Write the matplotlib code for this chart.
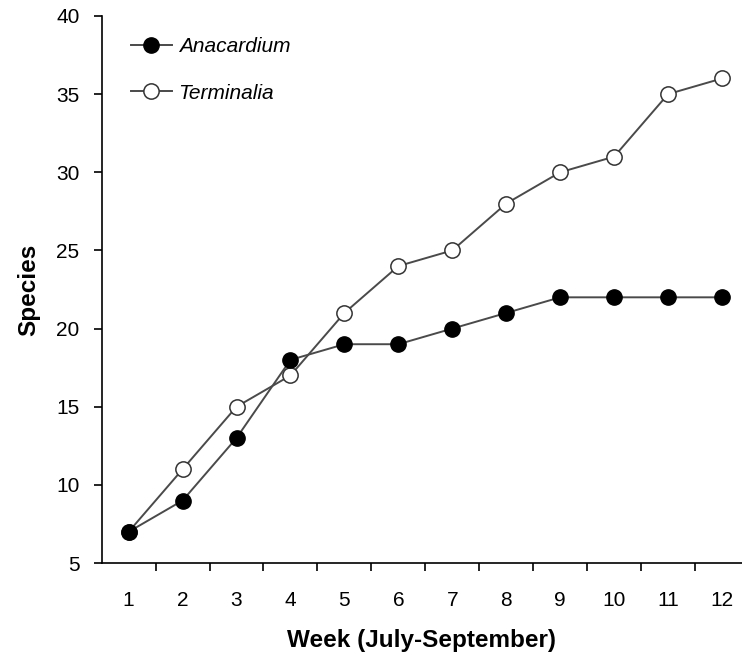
import numpy as np
import matplotlib.pyplot as plt

plt.rcParams['font.family'] = ['Liberation Sans', 'DejaVu Sans']

weeks = np.arange(1, 13)
week_labels = [str(w) for w in weeks]
anacardium = [7, 9, 13, 18, 19, 19, 20, 21, 22, 22, 22, 22]
terminalia = [7, 11, 15, 17, 21, 24, 25, 28, 30, 31, 35, 36]

fig = plt.figure(figsize=(7.42, 6.64), dpi=100)
ax = fig.add_axes([0.137, 0.152, 0.863, 0.824])

line_col = '#4a4a4a'
ax.plot(weeks, terminalia, color=line_col, lw=1.4, marker='o', ms=11,
        mfc='white', mec='#333333', mew=1.1, label='Terminalia', zorder=3)
ax.plot(weeks, anacardium, color=line_col, lw=1.4, marker='o', ms=11,
        mfc='black', mec='black', label='Anacardium', zorder=4)

ax.set_xlim(0.5, 12.37)
ax.set_ylim(5, 40)
ax.set_yticks(np.arange(5, 41, 5))

# category labels sit between the tick marks
ax.set_xticks(weeks)
ax.set_xticklabels(week_labels)
ax.set_xticks(np.arange(1.5, 12.5, 1), minor=True)
ax.tick_params(axis='x', which='major', length=0, pad=20, labelsize=15)
ax.tick_params(axis='x', which='minor', length=6, width=1.2, direction='out')
ax.tick_params(axis='y', length=6, width=1.2, direction='out', pad=10, labelsize=15)

for s in ['top', 'right']:
    ax.spines[s].set_visible(False)
for s in ['left', 'bottom']:
    ax.spines[s].set_linewidth(1.2)

ax.set_xlabel('Week (July-September)', fontsize=17.5, fontweight='bold', labelpad=14)
ax.set_ylabel('Species', fontsize=17.5, fontweight='bold', labelpad=11)

handles, labels = ax.get_legend_handles_labels()
ax.legend(handles[::-1], labels[::-1], loc='upper left',
          bbox_to_anchor=(0.016, 0.995), frameon=False,
          prop={'style': 'italic', 'size': 15}, labelspacing=1.3,
          handlelength=2.0, handletextpad=0.3)

fig.savefig('out.png', dpi=100)
